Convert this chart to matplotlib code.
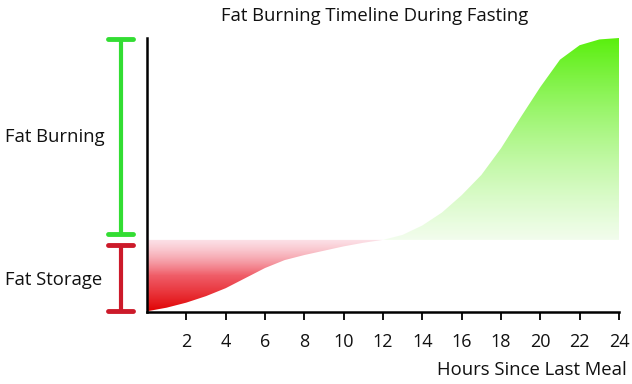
import numpy as np
import matplotlib.pyplot as plt
from matplotlib.colors import LinearSegmentedColormap

plt.rcParams['font.family'] = ['Open Sans', 'DejaVu Sans']

# fat storage phase (below baseline) and fat burning phase (above baseline)
storage_hours = [0, 1, 2, 3, 4, 5, 6, 7, 8, 9, 10, 11, 12]
storage_level = [-0.99, -0.94, -0.87, -0.78, -0.67, -0.53, -0.39, -0.28, -0.21, -0.15, -0.09, -0.04, 0.0]
burning_hours = [12, 13, 14, 15, 16, 17, 18, 19, 20, 21, 22, 23, 24]
burning_level = [0.0, 0.07, 0.2, 0.38, 0.62, 0.9, 1.27, 1.7, 2.12, 2.5, 2.7, 2.78, 2.8]
tick_hours = [2, 4, 6, 8, 10, 12, 14, 16, 18, 20, 22, 24]

fig = plt.figure(figsize=(6.32, 3.84), dpi=100)
ax = fig.add_axes([147 / 632, (384 - 312) / 384, (619 - 147) / 632, (312 - 38) / 384])

red_cmap = LinearSegmentedColormap.from_list(
    'red', [(0.88, 0.0, 0.0, 1.0), (0.93, 0.25, 0.3, 0.85), (0.97, 0.72, 0.78, 0.4)])
green_cmap = LinearSegmentedColormap.from_list(
    'green', [(0.93, 0.99, 0.9, 0.7), (0.35, 0.94, 0.05, 1.0)])

grad = np.linspace(0, 1, 256).reshape(-1, 1)

# gradients clipped to the area between each curve and the baseline
im = ax.imshow(grad, cmap=red_cmap, extent=[0, 12, -1, 0], origin='lower', aspect='auto', zorder=1)
poly = ax.fill_between(storage_hours, storage_level, 0, color='none')
im.set_clip_path(poly.get_paths()[0], transform=ax.transData)

im2 = ax.imshow(grad, cmap=green_cmap, extent=[12, 24, 0, 2.8], origin='lower', aspect='auto', zorder=1)
poly2 = ax.fill_between(burning_hours, 0, burning_level, color='none')
im2.set_clip_path(poly2.get_paths()[0], transform=ax.transData)

ax.set_xlim(0, 24)
ax.set_ylim(-1, 2.8)

for s in ['top', 'right']:
    ax.spines[s].set_visible(False)
ax.spines['left'].set_linewidth(1.8)
ax.spines['bottom'].set_linewidth(1.8)
ax.set_yticks([])
ax.set_xticks(tick_hours)
ax.set_xticklabels([str(h) for h in tick_hours], fontsize=13, color='#111111')
ax.tick_params(axis='x', length=6, width=1.3, pad=9)

# side brackets
gx = -1.32
ax.plot([gx, gx], [2.78, 0.08], color='#33dd33', lw=3, clip_on=False, solid_capstyle='butt')
ax.plot([-1.98, -0.71], [2.78, 2.78], color='#33dd33', lw=3.5, clip_on=False, solid_capstyle='round')
ax.plot([-1.98, -0.71], [0.08, 0.08], color='#33dd33', lw=3.5, clip_on=False, solid_capstyle='round')
ax.plot([gx, gx], [-0.07, -0.99], color='#cc1a2a', lw=3, clip_on=False, solid_capstyle='butt')
ax.plot([-1.98, -0.71], [-0.07, -0.07], color='#cc1a2a', lw=3.5, clip_on=False, solid_capstyle='round')
ax.plot([-1.98, -0.71], [-0.99, -0.99], color='#cc1a2a', lw=3.5, clip_on=False, solid_capstyle='round')

fig.text(5 / 632, 1 - 137 / 384, 'Fat Burning', fontsize=13.3, va='center', ha='left', color='#111111')
fig.text(5 / 632, 1 - 280 / 384, 'Fat Storage', fontsize=13.3, va='center', ha='left', color='#111111')
fig.text(375 / 632, 1 - 16 / 384, 'Fat Burning Timeline During Fasting', fontsize=13.3,
         va='center', ha='center', color='#111111')
fig.text(627 / 632, 1 - 370 / 384, 'Hours Since Last Meal', fontsize=13.3, va='center', ha='right', color='#111111')

fig.savefig('out.png', dpi=100)
